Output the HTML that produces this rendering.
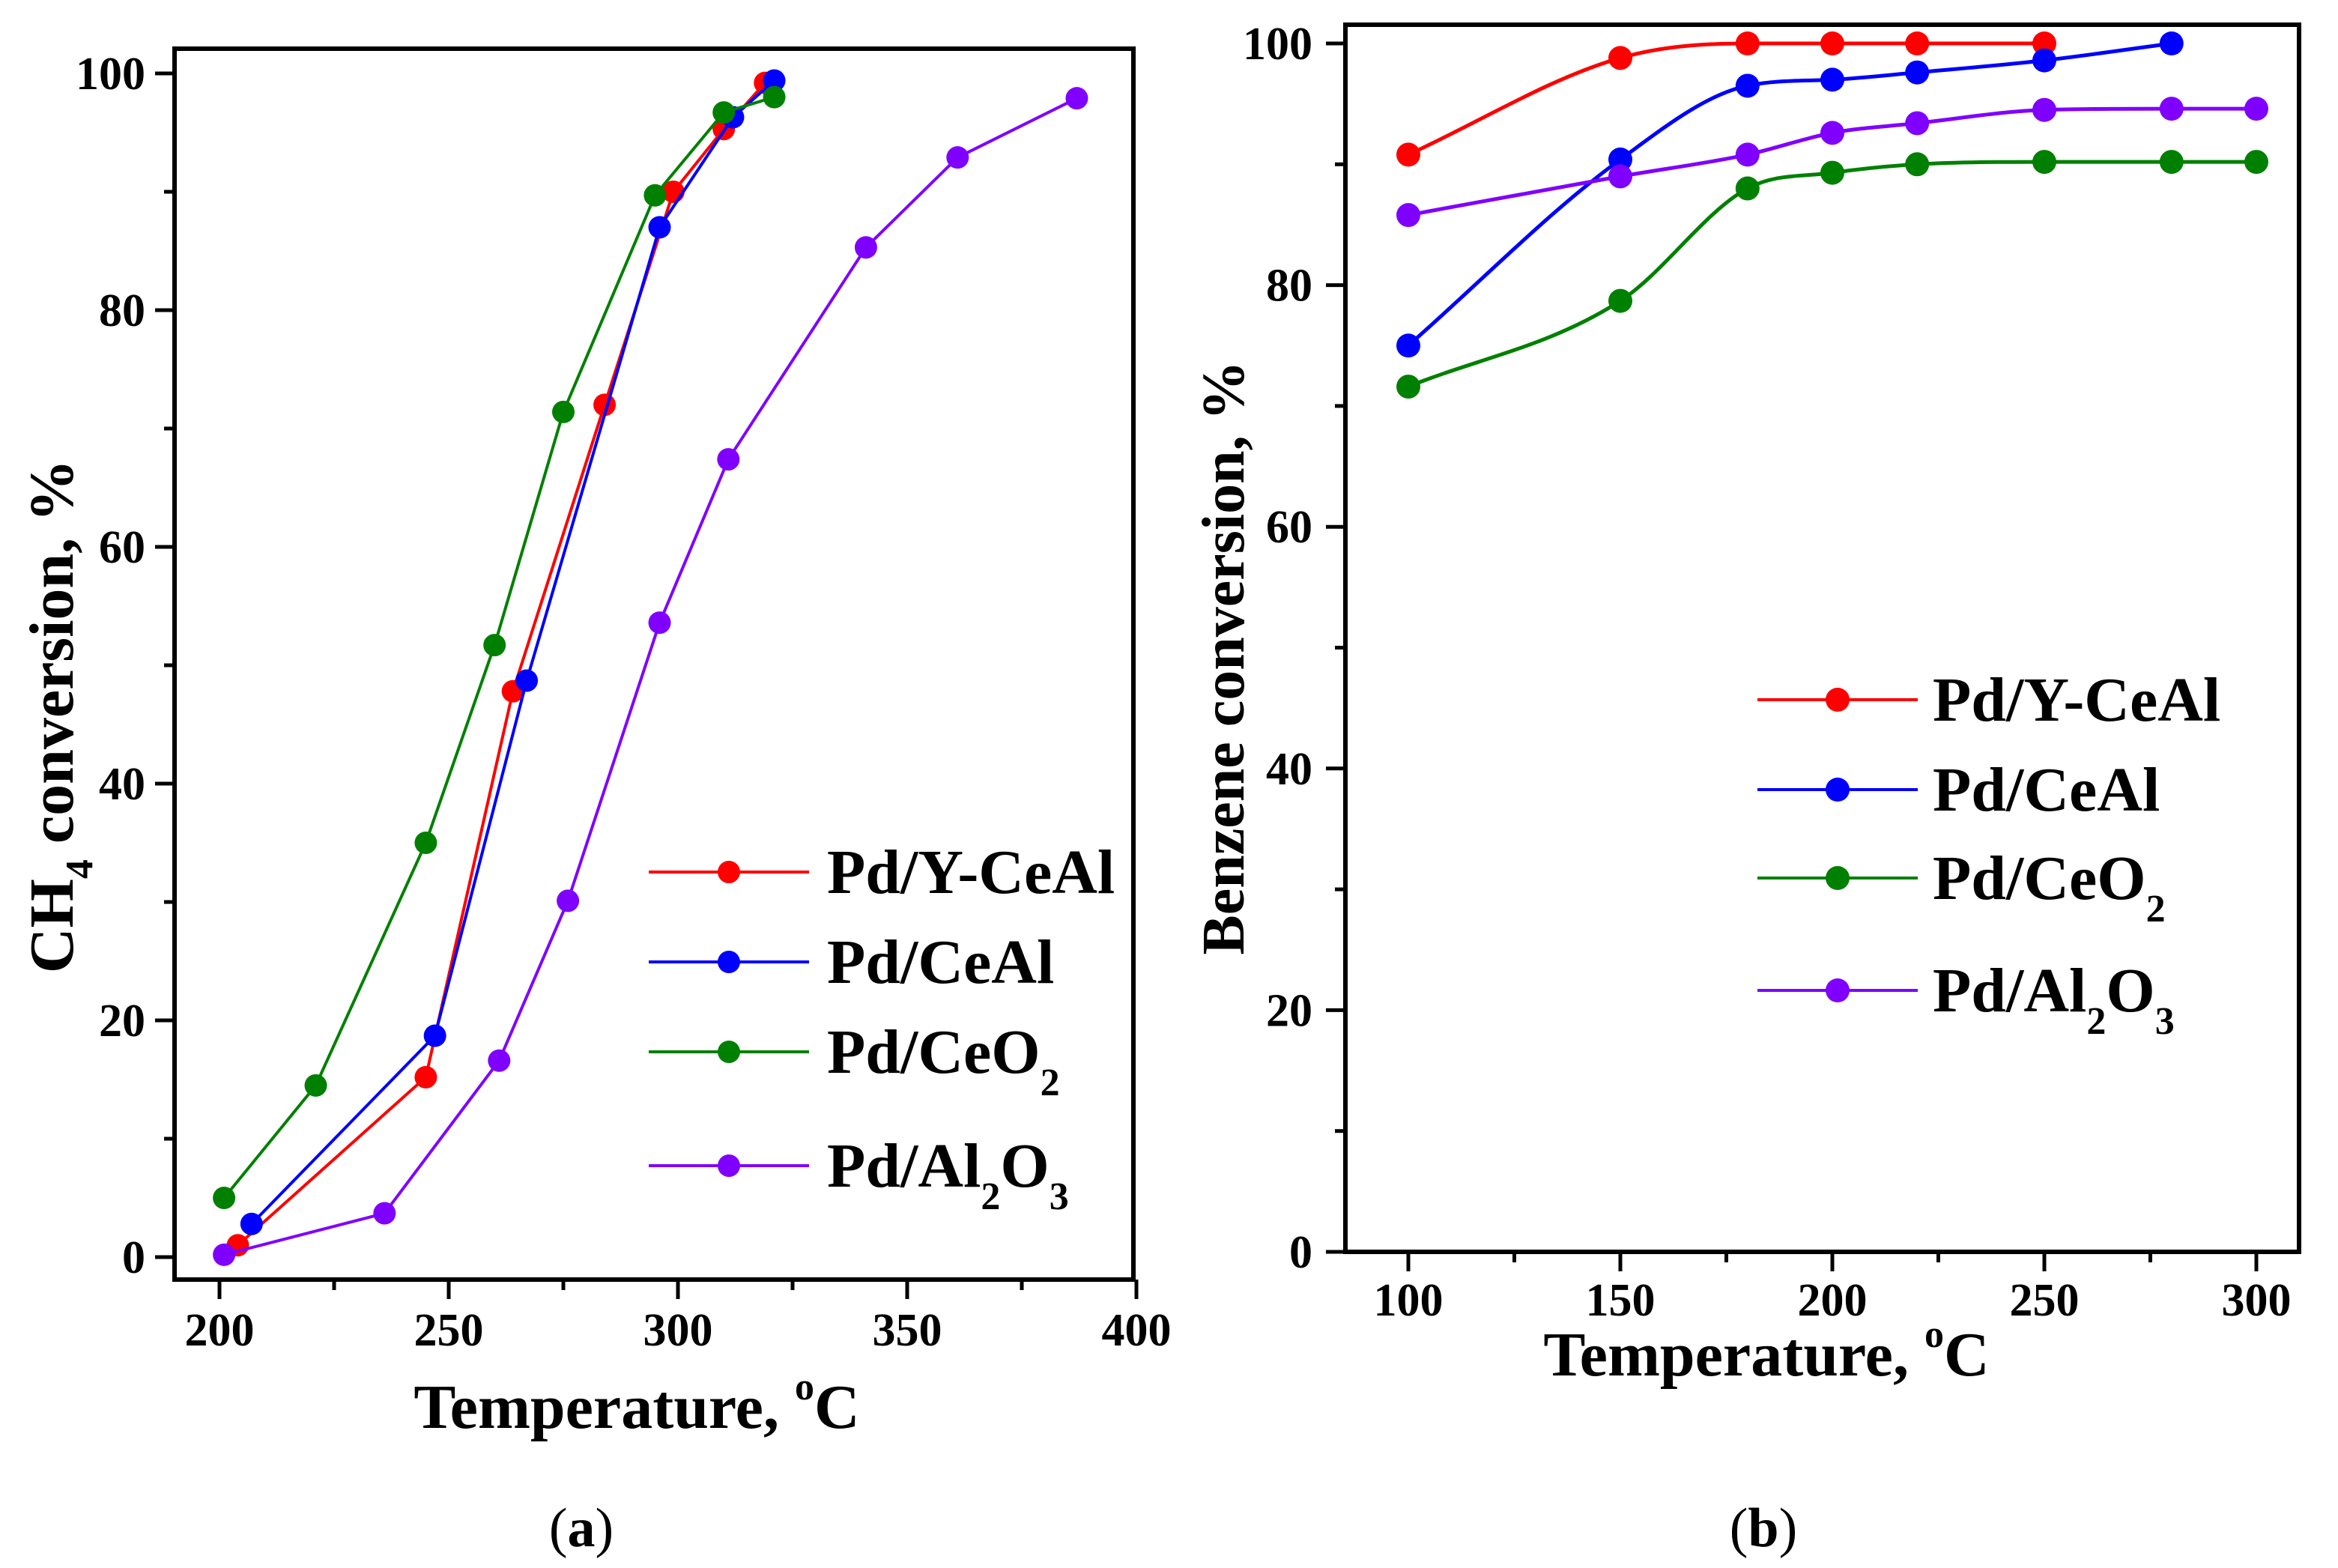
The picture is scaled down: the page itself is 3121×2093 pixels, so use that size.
<!DOCTYPE html>
<html><head><meta charset="utf-8"><style>
html,body{margin:0;padding:0;background:#fff;}
svg{display:block;font-family:"Liberation Serif",serif;font-weight:bold;}
</style></head><body>
<svg id="fig" width="3121" height="2093" viewBox="0 0 3121 2093" xmlns="http://www.w3.org/2000/svg">
<rect width="3121" height="2093" fill="#fff"/>
<g id="ga"></g>
<g id="gb"></g>
<text x="776" y="2064" font-size="74" text-anchor="middle" font-weight="normal">(<tspan font-weight="bold">a</tspan>)</text>
<text x="2354" y="2064" font-size="74" text-anchor="middle" font-weight="normal">(<tspan font-weight="bold">b</tspan>)</text>
</svg>
<script>
const seriesNames = ["Pd/Y-CeAl","Pd/CeAl","Pd/CeO2","Pd/Al2O3"];
const colors = ["#ff0000","#0000ff","#008000","#8000ff"];
// Chart a data
const aRedT = [204,245,264,284,299,310,319];
const aRedV = [1,15.2,47.8,72,90,95.3,99.2];
const aBlueT = [207,247,267,296,312,321];
const aBlueV = [2.8,18.7,48.7,87,96.3,99.4];
const aGreenT = [201,221,245,260,275,295,310,321];
const aGreenV = [5,14.5,35,51.7,71.4,89.7,96.7,98];
const aPurpleT = [201,236,261,276,296,311,341,361,387];
const aPurpleV = [0.2,3.7,16.6,30.1,53.6,67.4,85.3,92.9,97.9];
const aXTicks = [200,250,300,350,400];
const aYTicks = [0,20,40,60,80,100];
// Chart b data
const bRedT = [100,150,180,200,220,250];
const bRedV = [90.8,98.8,100,100,100,100];
const bBlueT = [100,150,180,200,220,250,280];
const bBlueV = [75,90.4,96.5,97,97.6,98.6,100];
const bGreenT = [100,150,180,200,220,250,280,300];
const bGreenV = [71.6,78.7,88,89.3,90,90.2,90.2,90.2];
const bPurpleT = [100,150,180,200,220,250,280,300];
const bPurpleV = [85.8,89,90.8,92.6,93.4,94.5,94.6,94.6];
const bXTicks = [100,150,200,250,300];
const bYTicks = [0,20,40,60,80,100];

const NS="http://www.w3.org/2000/svg";
function mk(parent,tag,attrs){const e=document.createElementNS(NS,tag);for(const k in attrs)e.setAttribute(k,attrs[k]);parent.appendChild(e);return e;}

function smoothPath(pts){
  // monotone cubic (Fritsch-Carlson)
  const n=pts.length,dx=[],dy=[],m=[],t=[];
  for(let i=0;i<n-1;i++){dx[i]=pts[i+1][0]-pts[i][0];dy[i]=pts[i+1][1]-pts[i][1];m[i]=dy[i]/dx[i];}
  t[0]=m[0];t[n-1]=m[n-2];
  for(let i=1;i<n-1;i++){t[i]=(m[i-1]*m[i]<=0)?0:(m[i-1]+m[i])/2;}
  for(let i=0;i<n-1;i++){
    if(m[i]===0){t[i]=0;t[i+1]=0;continue;}
    const a=t[i]/m[i],b=t[i+1]/m[i],s=a*a+b*b;
    if(s>9){const k=3/Math.sqrt(s);t[i]=k*a*m[i];t[i+1]=k*b*m[i];}
  }
  let d=`M${pts[0][0]},${pts[0][1]}`;
  for(let i=0;i<n-1;i++){
    const h=dx[i]/3;
    d+=` C${pts[i][0]+h},${pts[i][1]+t[i]*h} ${pts[i+1][0]-h},${pts[i+1][1]-t[i+1]*h} ${pts[i+1][0]},${pts[i+1][1]}`;
  }
  return d;
}

function drawChart(g,cfg){
  const sx=v=>cfg.x0+(v-cfg.xv0)*cfg.xs;
  const sy=v=>cfg.y0-(v-cfg.yv0)*cfg.ys;
  const fr=mk(g,'rect',{x:cfg.L,y:cfg.T,width:cfg.R-cfg.L,height:cfg.B-cfg.T,fill:'none',stroke:'#000','stroke-width':6});
  
  
  cfg.xTicks.forEach((t,i)=>{
    const x=sx(t);
    const tk=mk(g,'line',{x1:x,y1:cfg.B,x2:x,y2:cfg.B+26,stroke:'#000','stroke-width':5});
    
    
    const lb=mk(g,'text',{x:x,y:cfg.xLabY,'font-size':62,'text-anchor':'middle'});
    lb.textContent=t;
    
    
    if(i<cfg.xTicks.length-1){
      const m=sx((t+cfg.xTicks[i+1])/2);
      const mt=mk(g,'line',{x1:m,y1:cfg.B,x2:m,y2:cfg.B+14,stroke:'#000','stroke-width':5});
      
      
    }
  });
  cfg.yTicks.forEach((t,i)=>{
    const y=sy(t);
    const tk=mk(g,'line',{x1:cfg.L,y1:y,x2:cfg.L-26,y2:y,stroke:'#000','stroke-width':5});
    
    
    const lb=mk(g,'text',{x:cfg.yLabX,y:y+21,'font-size':62,'text-anchor':'end'});
    lb.textContent=t;
    
    
    if(i<cfg.yTicks.length-1){
      const m=sy((t+cfg.yTicks[i+1])/2);
      const mt=mk(g,'line',{x1:cfg.L,y1:m,x2:cfg.L-14,y2:m,stroke:'#000','stroke-width':5});
      
      
    }
  });
  cfg.series.forEach((s,si)=>{
    const pts=s[0].map((t,i)=>[sx(t),sy(s[1][i])]);
    const sg=mk(g,'g',{});
    
    
    const d=cfg.smooth?smoothPath(pts):'M'+pts.map(p=>p.join(',')).join(' L');
    const ln=mk(sg,'path',{d:d,fill:'none',stroke:colors[si],'stroke-width':cfg.lw});
    
    
    pts.forEach(p=>{
      const c=mk(sg,'circle',{cx:p[0],cy:p[1],r:cfg.mr,fill:colors[si]});
      
      
    });
  });
  cfg.legY.forEach((ly,i)=>{
    const lg=mk(g,'g',{});
    
    
    mk(lg,'line',{x1:cfg.legX1,y1:ly,x2:cfg.legX2,y2:ly,stroke:colors[i],'stroke-width':4});
    mk(lg,'circle',{cx:(cfg.legX1+cfg.legX2)/2,cy:ly,r:cfg.mr,fill:colors[i]});
    const t=mk(lg,'text',{x:cfg.legTX,y:ly+28,'font-size':84});
    if(i===0)t.textContent='Pd/Y-CeAl';
    else if(i===1)t.textContent='Pd/CeAl';
    else if(i===2)t.innerHTML='Pd/CeO<tspan font-size="52" dy="30">2</tspan>';
    else t.innerHTML='Pd/Al<tspan font-size="52" dy="30">2</tspan><tspan dy="-30">O</tspan><tspan font-size="52" dy="30">3</tspan>';
  });
  const xt=mk(g,'text',{x:cfg.xtX,y:cfg.xtY,'font-size':84,'text-anchor':'middle'});
  xt.innerHTML='Temperature, <tspan font-size="52" dy="-38">o</tspan><tspan dy="38">C</tspan>';
  
  
  const yt=mk(g,'text',{x:0,y:0,'font-size':cfg.ytFs,'text-anchor':'middle',transform:`translate(${cfg.ytX},${cfg.ytY}) rotate(-90)`});
  yt.innerHTML=cfg.ytHtml;
  
  
}

drawChart(document.getElementById('ga'),{
  L:233,R:1513,T:65,B:1708,x0:293,xv0:200,xs:306/50,y0:1678,yv0:0,ys:15.8,
  xTicks:aXTicks,yTicks:aYTicks,xLabY:1796,yLabX:194,
  series:[[aRedT,aRedV],[aBlueT,aBlueV],[aGreenT,aGreenV],[aPurpleT,aPurpleV]],
  smooth:false,lw:4,mr:15,
  legX1:866,legX2:1080,legTX:1104,legY:[1164,1284,1404,1556],
  xtX:850,xtY:1906,ytX:97,ytY:956,ytFs:84,
  ytHtml:'CH<tspan font-size="52" dy="26">4</tspan><tspan dy="-26"> conversion, %</tspan>'
});
drawChart(document.getElementById('gb'),{
  L:1796,R:3069,T:33,B:1671,x0:1880,xv0:100,xs:1132/200,y0:1671,yv0:0,ys:16.13,
  xTicks:bXTicks,yTicks:bYTicks,xLabY:1756,yLabX:1752,
  series:[[bRedT,bRedV],[bBlueT,bBlueV],[bGreenT,bGreenV],[bPurpleT,bPurpleV]],
  smooth:true,lw:5,mr:16,
  legX1:2346,legX2:2560,legTX:2580,legY:[934,1054,1172,1322],
  xtX:2358,xtY:1836,ytX:1660,ytY:878,ytFs:80,
  ytHtml:'Benzene conversion, %'
});
</script>
</body></html>
